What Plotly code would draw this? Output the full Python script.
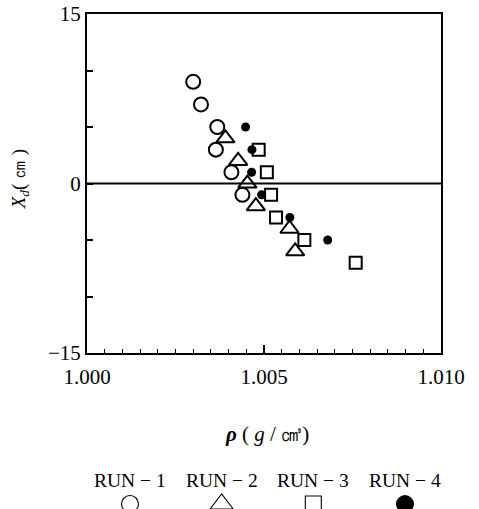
import plotly.graph_objects as go

# Data
run1_x = [1.00300, 1.00322, 1.00368, 1.00364, 1.00408, 1.00439]
run1_y = [9, 7, 5, 3, 1, -1]
run2_x = [1.00391, 1.00427, 1.00453, 1.00477, 1.00572, 1.00588]
run2_y = [4, 2, 0, -2, -4, -6]
run3_x = [1.00485, 1.00508, 1.00520, 1.00534, 1.00614, 1.00759]
run3_y = [3, 1, -1, -3, -5, -7]
run4_x = [1.00448, 1.00466, 1.00465, 1.00493, 1.00573, 1.00680]
run4_y = [5, 3, 1, -1, -3, -5]

legend_names = ["RUN \u2212 1", "RUN \u2212 2", "RUN \u2212 3", "RUN \u2212 4"]
legend_pos = [1, 2, 3, 4]

x_tickvals = [1.000, 1.005, 1.010]
x_ticktext = ["1.000", "1.005", "1.010"]
y_tickvals = [-15, -10, -5, 0, 5, 10, 15]
y_ticktext = ["\u221215", "", "", "0", "", "", "15"]

SERIF = "Liberation Serif, Times New Roman, serif"
BLACK = "black"

styles = [
    dict(symbol="circle-open", size=14, line=dict(width=2, color=BLACK), color=BLACK),
    dict(symbol="triangle-up-open", size=16, line=dict(width=2, color=BLACK), color=BLACK),
    dict(symbol="square-open", size=12, line=dict(width=2, color=BLACK), color=BLACK),
    dict(symbol="circle", size=9, line=dict(width=0, color=BLACK), color=BLACK),
]

fig = go.Figure()
for xs, ys, st, nm in zip([run1_x, run2_x, run3_x, run4_x],
                          [run1_y, run2_y, run3_y, run4_y], styles, legend_names):
    fig.add_trace(go.Scatter(x=xs, y=ys, mode="markers", marker=st, name=nm,
                             showlegend=False, cliponaxis=False))

# Legend symbols below the chart on a hidden helper axis
legend_styles = [
    dict(symbol="circle-open", size=17, line=dict(width=1.1, color=BLACK), color=BLACK),
    dict(symbol="triangle-up-open", size=20, line=dict(width=1.1, color=BLACK), color=BLACK),
    dict(symbol="square-open", size=16, line=dict(width=1.1, color=BLACK), color=BLACK),
    dict(symbol="circle", size=18, line=dict(width=0, color=BLACK), color=BLACK),
]
for pos, st in zip(legend_pos, legend_styles):
    fig.add_trace(go.Scatter(x=[pos], y=[0], mode="markers", marker=st,
                             xaxis="x2", yaxis="y2", showlegend=False, cliponaxis=False))

fig.add_shape(type="line", xref="x domain", yref="y", x0=0, x1=1, y0=0, y1=0,
              line=dict(color=BLACK, width=2))

annotations = [
    dict(text="<b><i>\u03c1</i></b> ( <i>g</i> / \u33a4)", xref="paper", yref="paper",
         x=0.508, y=0.1515, showarrow=False, xanchor="center", yanchor="middle",
         font=dict(family=SERIF, size=21, color=BLACK)),
    dict(text="<i>X</i><sub><i>d</i></sub>( \u339d )", xref="paper", yref="paper",
         x=-0.189, y=0.6663, showarrow=False, textangle=-90, xanchor="center",
         yanchor="middle", font=dict(family=SERIF, size=19, color=BLACK)),
]
for pos, nm in zip(legend_pos, legend_names):
    annotations.append(dict(text=nm, xref="x2", yref="paper", x=pos, y=0.0566,
                            showarrow=False, xanchor="center", yanchor="middle",
                            font=dict(family=SERIF, size=19.5, color=BLACK)))

fig.update_layout(
    width=479, height=521,
    margin=dict(l=87, r=38, t=14, b=0),
    paper_bgcolor="white", plot_bgcolor="white",
    font=dict(family=SERIF, size=19, color=BLACK),
    xaxis=dict(range=[1.000, 1.010], tickvals=x_tickvals, ticktext=x_ticktext,
               ticks="inside", ticklen=8, tickwidth=1.5, tickcolor=BLACK,
               minor=dict(dtick=0.0005, tick0=1.0, ticks="inside", ticklen=4,
                          tickwidth=1.2, tickcolor=BLACK, showgrid=False),
               ticklabelstandoff=4,
               showline=True, linewidth=2, linecolor=BLACK, mirror=True,
               showgrid=False, zeroline=False, tickfont=dict(family=SERIF, size=21)),
    yaxis=dict(domain=[0.315, 1.0], range=[-15, 15], tickvals=y_tickvals,
               ticktext=y_ticktext, ticklabeloverflow="allow",
               ticks="inside", ticklen=6, tickwidth=1.5, tickcolor=BLACK,
               showline=True, linewidth=2, linecolor=BLACK, mirror=True,
               showgrid=False, zeroline=False, tickfont=dict(family=SERIF, size=21)),
    xaxis2=dict(domain=[0, 1], range=[0.531, 4.393], anchor="y2", visible=False,
                fixedrange=True),
    yaxis2=dict(domain=[0.0, 0.0202], range=[-1, 1], anchor="x2", visible=False,
                fixedrange=True),
    annotations=annotations,
)

post = ("document.body.style.margin='0';"
        "document.documentElement.style.overflow='hidden';"
        "document.body.style.overflow='hidden';"
        "var d=document.getElementById('{plot_id}');"
        "d.style.position='fixed';d.style.top='0px';d.style.left='0px';")

fig.write_html("out.html", config={"displayModeBar": False}, post_script=post)
